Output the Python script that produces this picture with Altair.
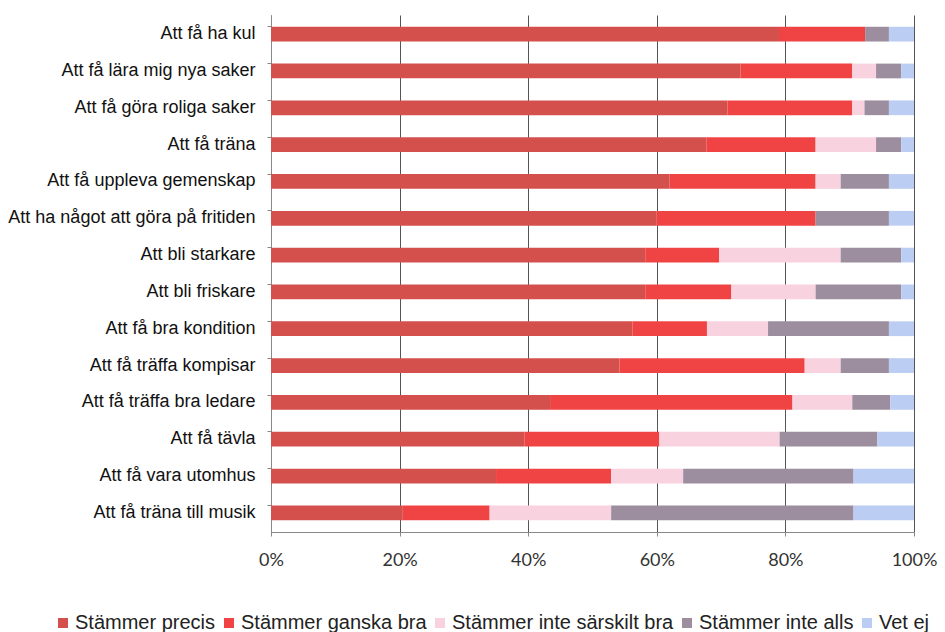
import altair as alt
import pandas as pd

categories = [
    "Att få ha kul",
    "Att få lära mig nya saker",
    "Att få göra roliga saker",
    "Att få träna",
    "Att få uppleva gemenskap",
    "Att ha något att göra på fritiden",
    "Att bli starkare",
    "Att bli friskare",
    "Att få bra kondition",
    "Att få träffa kompisar",
    "Att få träffa bra ledare",
    "Att få tävla",
    "Att få vara utomhus",
    "Att få träna till musik",
]
series = ["Stämmer precis", "Stämmer ganska bra", "Stämmer inte särskilt bra",
          "Stämmer inte alls", "Vet ej"]
precis = [79, 73, 71, 67.7, 62, 60, 58.2, 58.2, 56.2, 54.2, 43.4, 39.4, 35, 20.5]
ganska = [13.4, 17.4, 19.4, 17, 22.7, 24.7, 11.5, 13.4, 11.6, 28.8, 37.7, 21, 17.9, 13.5]
inte_sarskilt = [0, 3.7, 1.9, 9.4, 3.9, 0, 18.9, 13.1, 9.5, 5.6, 9.3, 18.7, 11.2, 18.9]
inte_alls = [3.7, 3.9, 3.8, 3.9, 7.5, 11.4, 9.4, 13.3, 18.8, 7.5, 5.9, 15.2, 26.5, 37.7]
vet_ej = [3.9, 2, 3.9, 2, 3.9, 3.9, 2, 2, 3.9, 3.9, 3.7, 5.7, 9.4, 9.4]
colors = ["#D4504C", "#F04444", "#F8D2DE", "#9D8E9F", "#BBCDF2"]
x_ticks = [0, 20, 40, 60, 80, 100]

rows = []
for s_i, (name, vals) in enumerate(zip(series, [precis, ganska, inte_sarskilt, inte_alls, vet_ej])):
    for c, v in zip(categories, vals):
        rows.append({"cat": c, "series": name, "value": v, "order": s_i})
df = pd.DataFrame(rows)

chart = alt.Chart(df).mark_bar().encode(
    y=alt.Y("cat:N", sort=categories, title=None,
            scale=alt.Scale(paddingInner=0.6, paddingOuter=0.32),
            axis=alt.Axis(labelFont="Liberation Sans", labelFontSize=18, labelColor="#111",
                          labelPadding=12, domainColor="#888", tickColor="#888",
                          tickSize=4, bandPosition=0, grid=False, labelLimit=300)),
    x=alt.X("value:Q", stack="zero", title=None,
            scale=alt.Scale(domain=[0, 100], nice=False),
            axis=alt.Axis(values=x_ticks, labelExpr="datum.value + '%'",
                          labelFont="Lato", labelFontSize=18, labelColor="#333",
                          labelFlush=False, labelPadding=15,
                          domainColor="#888", tickColor="#888",
                          tickSize=4, grid=True, gridColor="#555", gridWidth=1)),
    color=alt.Color("series:N", sort=series,
                    scale=alt.Scale(domain=series, range=colors),
                    legend=alt.Legend(title=None, orient="none", direction="horizontal",
                                      legendX=-218, legendY=598, symbolType="square",
                                      symbolSize=100, symbolStrokeWidth=0,
                                      labelFont="Liberation Sans", labelFontSize=20,
                                      labelColor="#222", labelLimit=400,
                                      columnPadding=3, labelOffset=2, columns=5)),
    order=alt.Order("order:Q"),
).properties(
    width=643, height=517,
    padding={"left": 271, "top": 15, "right": 31, "bottom": 100},
    autosize=alt.AutoSizeParams(type="none"),
).configure_view(stroke=None)

chart.save("out.html", embed_options={"renderer": "svg", "actions": False})
